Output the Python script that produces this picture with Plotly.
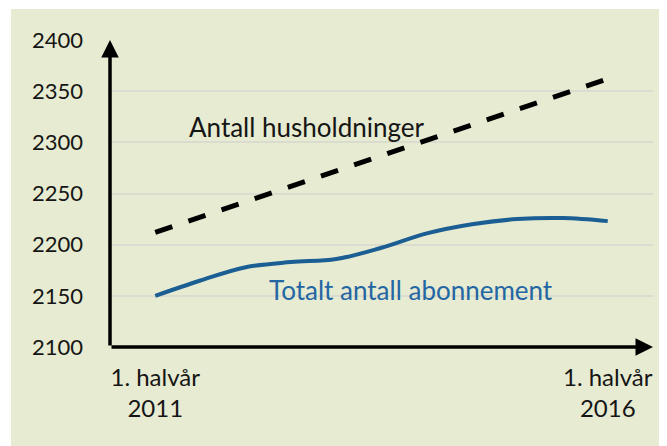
import plotly.graph_objects as go

periods = list(range(11))  # half-years 2011 H1 .. 2016 H1
households = [2212, 2227, 2242, 2257, 2272, 2287, 2302, 2317, 2332, 2347, 2362]
subscriptions = [2150, 2165, 2178, 2183, 2186, 2197, 2211, 2220, 2225, 2226, 2223]

y_ticks = [2100, 2150, 2200, 2250, 2300, 2350, 2400]
x_tick_vals = [0, 10]
x_tick_text = ["1. halvår<br>2011", "1. halvår<br>2016"]

label_households = "Antall husholdninger"
label_subs = "Totalt antall abonnement"

BG = "#E7EBD1"
FONT = "Lato"
TXT = "#151515"

fig = go.Figure()
fig.add_trace(go.Scatter(x=periods, y=households, mode="lines",
                         line=dict(color="black", width=5, dash="18px,17px"),
                         hoverinfo="skip"))
fig.add_trace(go.Scatter(x=periods, y=subscriptions, mode="lines",
                         line=dict(color="#1B5E94", width=4, shape="spline", smoothing=1.0),
                         hoverinfo="skip"))

# background panel (white margin at top/left)
fig.add_shape(type="rect", xref="paper", yref="paper",
              x0=-0.1823, x1=1.06, y0=-0.36, y1=1.101,
              fillcolor=BG, line=dict(width=0), layer="below")

# axes with arrowheads
fig.add_annotation(x=-1, y=2400, ax=-1, ay=2100, xref="x", yref="y", axref="x", ayref="y",
                   showarrow=True, arrowhead=2, arrowsize=1, arrowwidth=3.5,
                   arrowcolor="black", text="")
fig.add_annotation(x=11, y=2100, ax=-1, ay=2100, xref="x", yref="y", axref="x", ayref="y",
                   showarrow=True, arrowhead=2, arrowsize=1, arrowwidth=3.5,
                   arrowcolor="black", text="")

fig.add_annotation(x=3.36, y=2315, text=label_households, showarrow=False,
                   font=dict(family=FONT, size=26, color=TXT))
fig.add_annotation(x=5.66, y=2156, text=label_subs, showarrow=False,
                   font=dict(family=FONT, size=26, color="#2366A3"))

fig.update_layout(
    width=667, height=446,
    margin=dict(l=102, r=22, t=32, b=107),
    paper_bgcolor="white", plot_bgcolor="rgba(0,0,0,0)",
    showlegend=False,
    font=dict(family=FONT, size=22, color=TXT),
)
fig.update_xaxes(range=[-1, 11], tickvals=x_tick_vals, ticktext=x_tick_text,
                 showgrid=False, zeroline=False, showline=False,
                 ticks="", ticklabelstandoff=14,
                 tickfont=dict(family=FONT, size=24, color=TXT))
fig.update_yaxes(range=[2100, 2400], tickvals=y_ticks,
                 showgrid=True, gridcolor="#D9DCCF", gridwidth=1.5,
                 zeroline=False, showline=False, ticks="", ticklabelstandoff=26,
                 tickfont=dict(family=FONT, size=22, color=TXT))

fig.write_html("out.html")
